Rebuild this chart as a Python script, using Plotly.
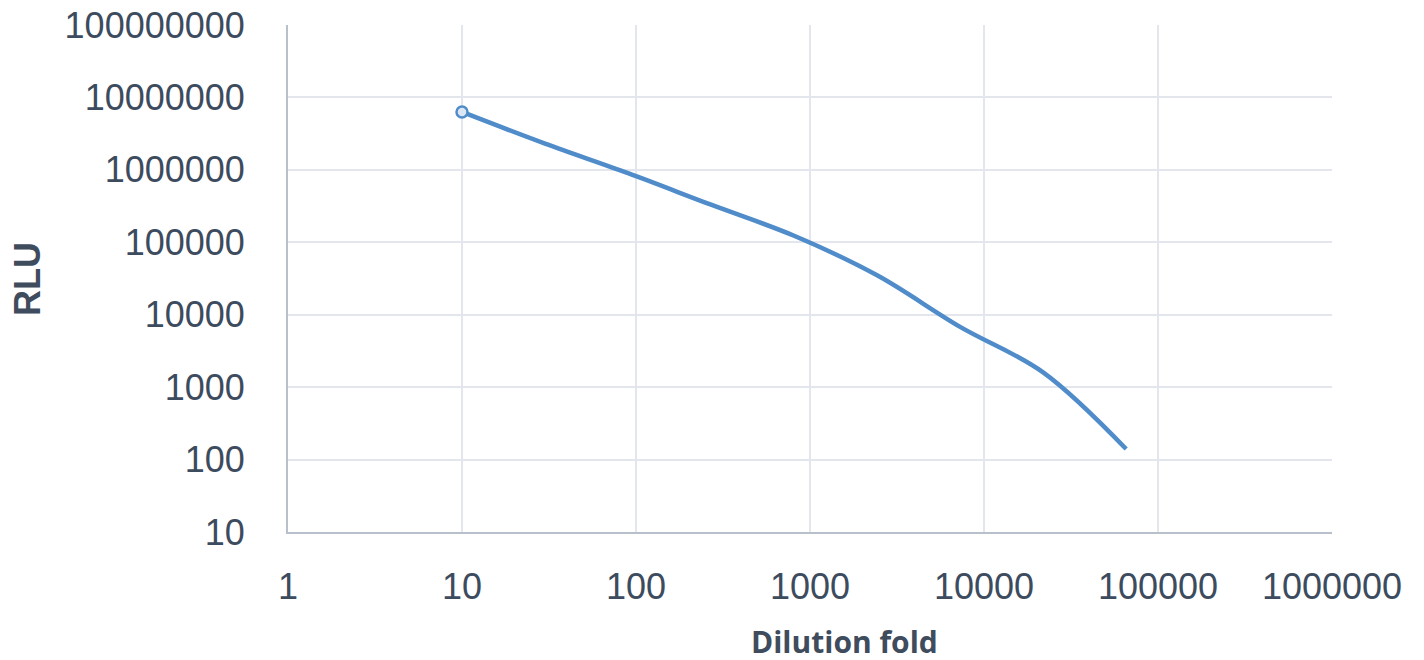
import plotly.graph_objects as go

dilution = [10, 30, 90, 270, 810, 2430, 7290, 21870, 65610]
rlu = [6300000, 2300000, 900000, 330000, 123000, 35000, 6800, 1600, 140]
x_ticks = [1, 10, 100, 1000, 10000, 100000, 1000000]
y_ticks = [10, 100, 1000, 10000, 100000, 1000000, 10000000, 100000000]

line_color = "#4f8cc9"
text_color = "#3d4b5e"
grid_color = "#e3e6ec"
axis_color = "#b8c0cc"

fig = go.Figure()
fig.add_trace(go.Scatter(
    x=dilution, y=rlu, mode="lines",
    line=dict(color=line_color, width=4.5, shape="spline", smoothing=1.0),
    showlegend=False, hoverinfo="x+y"))
fig.add_trace(go.Scatter(
    x=dilution[:1], y=rlu[:1], mode="markers",
    marker=dict(size=11, color="#dbe7f4", line=dict(color=line_color, width=2.5)),
    showlegend=False))

fig.update_layout(
    width=1424, height=660,
    margin=dict(l=280, r=100, t=17, b=136, autoexpand=False),
    paper_bgcolor="white", plot_bgcolor="white",
    font=dict(family="Liberation Sans, Arial, sans-serif", color=text_color),
    xaxis=dict(type="log", range=[0, 6], tickvals=x_ticks,
               ticktext=[str(v) for v in x_ticks],
               tickfont=dict(size=36, color=text_color),
               showgrid=True, gridcolor=grid_color, gridwidth=2,
               showline=True, linecolor=axis_color, linewidth=2,
               zeroline=False, ticks="", ticklabelstandoff=22,
               ticklabeloverflow="allow", automargin=False),
    yaxis=dict(type="log", range=[1, 8], tickvals=y_ticks,
               ticktext=[str(v) for v in y_ticks],
               tickfont=dict(size=36, color=text_color),
               showgrid=True, gridcolor=grid_color, gridwidth=2,
               showline=True, linecolor=axis_color, linewidth=2,
               zeroline=False, ticks="", ticklabelstandoff=34,
               ticklabeloverflow="allow", automargin=False),
    annotations=[
        dict(text="<b>Dilution fold</b>", xref="paper", yref="paper",
             x=0.5335, y=0, yshift=-109, xanchor="center", yanchor="middle",
             showarrow=False, font=dict(family="Open Sans, sans-serif", size=30, color="#3f4c5d")),
        dict(text="<b>RLU</b>", xref="paper", yref="paper",
             x=0, xshift=-261, y=0.499, xanchor="center", yanchor="middle", textangle=-90,
             showarrow=False, font=dict(family="Liberation Sans, Arial, sans-serif", size=36, color="#3f4c5d")),
    ],
)

fig.write_html("out.html")
